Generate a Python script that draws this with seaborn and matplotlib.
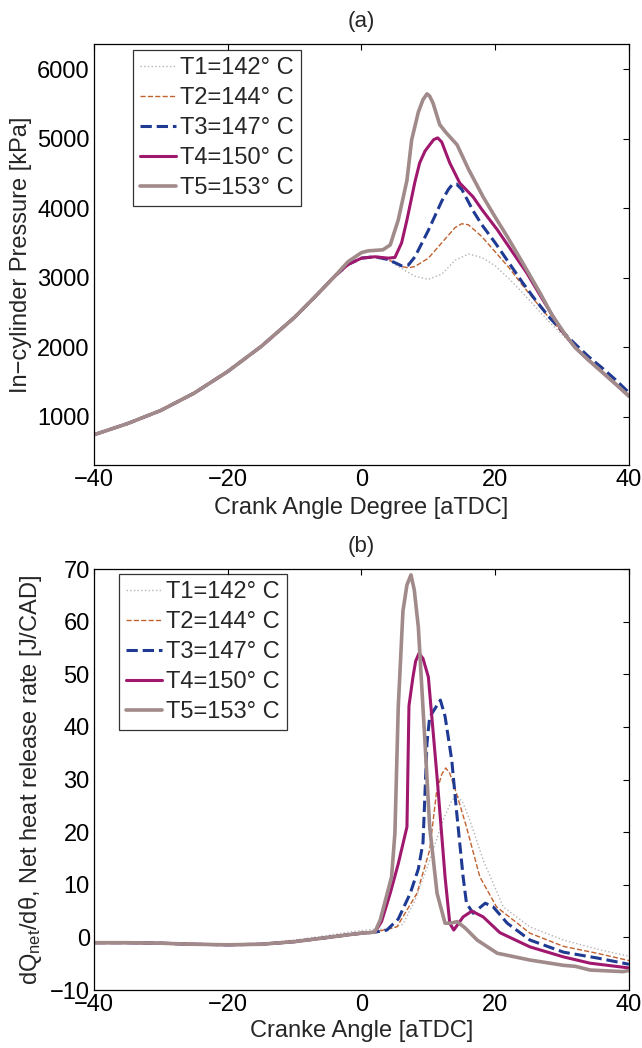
import numpy as np
import pandas as pd
import matplotlib
matplotlib.use('Agg')
import matplotlib.pyplot as plt
import seaborn as sns

# ---- panel (a): in-cylinder pressure [kPa] vs crank angle ----
comp_x = [-40, -35, -30, -25, -20, -15, -10, -7, -4, -2, 0, 2]
comp_p = [740, 900, 1090, 1340, 1650, 2010, 2430, 2720, 3020, 3190, 3280, 3300]
tail_x = [32, 34, 36, 38, 40]
tail_p = [1990, 1810, 1640, 1470, 1295]
tail_p3 = [2040, 1860, 1700, 1530, 1345]

p1_x = [4, 6, 8, 10, 12, 14, 16, 18, 20, 22, 24, 26, 28, 30]
p1_y = [3250, 3130, 3020, 2975, 3050, 3250, 3340, 3290, 3170, 2990, 2790, 2580, 2370, 2180]
p2_x = [4, 6, 7, 8, 10, 12, 14, 15, 16, 18, 20, 22, 24, 26, 28, 30]
p2_y = [3260, 3160, 3140, 3160, 3280, 3500, 3720, 3775, 3760, 3590, 3370, 3150, 2900, 2660, 2430, 2210]
p3_x = [4, 6, 7, 8, 10, 12, 13, 13.6, 14.2, 15, 16.7, 18, 20, 22, 24, 26, 28, 30]
p3_y = [3260, 3170, 3180, 3300, 3680, 4100, 4270, 4340, 4345, 4270, 3960, 3760, 3500, 3220, 2940, 2680, 2440, 2230]
p4_x = [4, 5, 6, 6.8, 8, 8.7, 9.5, 10.2, 10.8, 11.4, 12, 13.2, 14.7, 16.7, 18, 20.3, 22, 24.7, 27, 30]
p4_y = [3280, 3290, 3500, 3830, 4380, 4650, 4820, 4910, 4985, 5010, 4950, 4650, 4360, 4160, 3980, 3690, 3450, 3070, 2700, 2230]
p5_x = [-2, 0, 1, 3.2, 4.3, 5.5, 6.8, 7.5, 8.5, 9.2, 9.8, 10.2, 10.7, 11.7, 12.7, 14.3, 16, 18.2, 20, 21.8, 24, 26.7, 28.5, 30.7]
p5_y = [3230, 3360, 3385, 3400, 3470, 3830, 4400, 4980, 5380, 5560, 5643, 5610, 5510, 5200, 5080, 4910, 4560, 4160, 3870, 3590, 3230, 2780, 2460, 2150]

# ---- panel (b): net heat release rate [J/CAD] ----
base_x = [-40, -35, -30, -25, -20, -15, -10, -5, -2, 0, 2]
base_q = [-1.0, -1.0, -1.1, -1.3, -1.4, -1.3, -0.8, 0.0, 0.5, 0.8, 1.0]
base_q1 = [-1.0, -1.0, -1.0, -1.2, -1.3, -1.1, -0.5, 0.4, 1.0, 1.3, 1.6]

q1_x = [4, 6.2, 8, 10.2, 12.2, 13.5, 14.3, 15.2, 16.2, 18.2, 21.2, 25.2, 30.2, 35.2, 40]
q1_y = [1.5, 2.5, 7, 14.7, 22.3, 26, 27, 25.5, 22.3, 14.7, 5.8, 2.0, -0.5, -2.2, -3.6]
q2_x = [5.3, 8.3, 10.2, 11.2, 12.0, 12.6, 13.2, 14.2, 15.7, 17.7, 20.2, 25.2, 30.2, 35.2, 40]
q2_y = [2.0, 8.4, 16.6, 27.4, 31.0, 32.2, 31.2, 27.4, 21.0, 11.5, 5.8, 0.8, -1.7, -3.0, -4.4]
q3_x = [3.8, 5.5, 7.3, 8.5, 9.2, 9.8, 10.2, 11.0, 11.8, 12.5, 13.5, 14.2, 15.2, 15.7, 16.7, 18.5, 19.7, 21.8, 25.2, 30.2, 35.2, 40]
q3_y = [1.4, 3.5, 8.4, 13, 18, 37, 41.9, 43.5, 45.1, 42, 33.7, 24.2, 11.5, 6.5, 4.6, 6.5, 5.8, 2.7, -0.5, -2.8, -3.9, -5.1]
q4_x = [3, 4.3, 5.5, 6.8, 7.1, 7.7, 8.1, 8.6, 9.2, 10, 11.3, 12.5, 13.2, 13.8, 15.2, 16.5, 18.2, 20.7, 25.2, 30.2, 34.2, 40]
q4_y = [3.0, 8.4, 14, 21, 44, 49.5, 52.5, 54, 53, 49.5, 30.5, 11.5, 2.7, 1.4, 3.9, 5.0, 3.9, 0.9, -1.8, -3.7, -4.9, -5.8]
q5_x = [2.8, 4.5, 5.0, 5.5, 6.2, 6.8, 7.4, 7.9, 8.5, 9.5, 10.2, 11.3, 12.5, 13.3, 14.3, 15.5, 17.3, 20.3, 25.2, 30.2, 32, 34.2, 39.1, 40]
q5_y = [3.3, 11.5, 19.8, 43.8, 62, 67, 68.9, 66, 59, 37, 21, 8.4, 2.7, 2.7, 3.0, 1.8, -0.5, -3.0, -4.3, -5.3, -5.5, -6.2, -6.5, -6.3]

labels = ['T1=142° C', 'T2=144° C', 'T3=147° C', 'T4=150° C', 'T5=153° C']
colors = ['#b4b4b4', '#c0622f', '#1f3a93', '#a0176e', '#a08a8a']
styles = [':', '--', '--', '-', '-']
widths = [1.0, 1.0, 2.2, 2.2, 2.6]

top_series = [
    (comp_x + p1_x + tail_x, comp_p + p1_y + tail_p),
    (comp_x + p2_x + tail_x, comp_p + p2_y + tail_p),
    (comp_x + p3_x + tail_x, comp_p + p3_y + tail_p3),
    (comp_x + p4_x + tail_x, comp_p + p4_y + tail_p),
    (comp_x[:-3] + p5_x + tail_x, comp_p[:-3] + p5_y + tail_p),
]
bot_series = [
    (base_x + q1_x, base_q1 + q1_y),
    (base_x + q2_x, base_q + q2_y),
    (base_x + q3_x, base_q + q3_y),
    (base_x + q4_x, base_q + q4_y),
    (base_x + q5_x, base_q + q5_y),
]

sns.set_style('white')
plt.rcParams['font.family'] = ['Liberation Sans', 'DejaVu Sans']
plt.rcParams['mathtext.fontset'] = 'custom'
plt.rcParams['mathtext.rm'] = 'Liberation Sans'
plt.rcParams['mathtext.it'] = 'Liberation Sans:italic'
plt.rcParams['axes.unicode_minus'] = True

fs = 17
fig = plt.figure(figsize=(6.42, 10.48), dpi=100)
ax1 = fig.add_axes([0.1464, 0.5563, 0.8333, 0.4017])
ax2 = fig.add_axes([0.1464, 0.0553, 0.8333, 0.4017])


def draw(ax, series):
    for (x, y), lab, c, ls, lw in zip(series, labels, colors, styles, widths):
        df = pd.DataFrame({'x': x, 'y': y})
        sns.lineplot(data=df, x='x', y='y', ax=ax, color=c, linestyle=ls,
                     linewidth=lw, label=lab, sort=False)


def style(ax):
    for s in ax.spines.values():
        s.set_color('black')
        s.set_linewidth(0.9)
    ax.tick_params(direction='in', length=4, width=0.8, top=True, right=True,
                   labelsize=fs, pad=3, colors='black')
    ax.set_xlim(-40, 40)
    ax.set_xticks([-40, -20, 0, 20, 40])


def legend(ax, anchor):
    leg = ax.legend(loc='upper left', bbox_to_anchor=anchor, borderaxespad=0,
                    fontsize=fs, frameon=True, fancybox=False, edgecolor='black',
                    handlelength=1.5, handletextpad=0.2, labelspacing=0.34, borderpad=0.3)
    leg.get_frame().set_linewidth(0.9)


draw(ax1, top_series)
style(ax1)
ax1.set_ylim(305, 6360)
ax1.set_yticks([1000, 2000, 3000, 4000, 5000, 6000])
ax1.set_xlabel('Crank Angle Degree [aTDC]', fontsize=fs, labelpad=4)
ax1.set_ylabel('In\u2212cylinder Pressure [kPa]', fontsize=fs, labelpad=4)
ax1.set_title('(a)', fontsize=fs - 1, pad=12)
legend(ax1, (0.073, 0.986))

draw(ax2, bot_series)
style(ax2)
ax2.set_ylim(-10, 70)
ax2.set_yticks(range(-10, 71, 10))
ax2.set_xlabel('Cranke Angle [aTDC]', fontsize=fs, labelpad=3)
ax2.set_ylabel('dQ$_{\\mathrm{net}}$/d\u03b8, Net heat release rate [J/CAD]',
               fontsize=fs, labelpad=4)
ax2.set_title('(b)', fontsize=fs - 1, pad=12)
legend(ax2, (0.047, 0.988))

fig.savefig('out.png', dpi=100)
